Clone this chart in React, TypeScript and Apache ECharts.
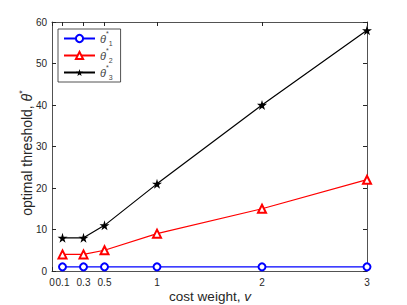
import React, { useEffect, useRef } from "react";
import * as echarts from "echarts";

const costWeights = [0.1, 0.3, 0.5, 1, 2, 3];
const theta1 = [1, 1, 1, 1, 1, 1];
const theta2 = [4, 4, 5, 9, 15, 22];
const theta3 = [8, 8, 11, 21, 40, 58];
const xTicks = [0, 0.1, 0.3, 0.5, 1, 2, 3];
const seriesNames = ["theta1", "theta2", "theta3"];

const STAR = "path://M50,0 L61,35 L98,35 L68,57 L79,91 L50,70 L21,91 L32,57 L2,35 L39,35 Z";
const AX = "#262626";
const FONT = "'Liberation Sans', Arial, sans-serif";

export default function App() {
  const ref = useRef<HTMLDivElement>(null);
  useEffect(() => {
    const chart = echarts.init(ref.current!, null, { renderer: "svg" });
    const pair = (vals: number[]) => costWeights.map((x, i) => [x, vals[i]]);
    const rich = {
      t: { fontSize: 11, fontStyle: "italic", color: "#444", fontFamily: FONT, lineHeight: 17 },
      s: { fontSize: 7, color: "#444", verticalAlign: "top", lineHeight: 17, fontFamily: FONT },
      b: { fontSize: 7, color: "#444", verticalAlign: "bottom", lineHeight: 17, fontFamily: FONT },
    };
    chart.setOption({
      animation: false,
      grid: { left: 52, right: 40, top: 22, bottom: 34, containLabel: false },
      legend: {
        left: 58,
        top: 29,
        orient: "vertical",
        backgroundColor: "#fff",
        borderColor: "#262626",
        borderWidth: 0.8,
        borderRadius: 0,
        padding: [1, 8, 1, 5],
        itemGap: 0,
        itemWidth: 31,
        itemHeight: 9,
        data: seriesNames,
        formatter: (n: string) => `{t|θ}{s|*}{b|${n.slice(-1)}}`,
        textStyle: { rich },
      },
      xAxis: [
        {
          type: "value",
          min: 0,
          max: 3,
          axisLine: { lineStyle: { color: AX, width: 0.8 } },
          splitLine: { show: false },
          axisTick: { inside: true, length: 4, customValues: xTicks, lineStyle: { color: AX } },
          axisLabel: { customValues: xTicks, color: AX, fontSize: 10, fontFamily: FONT, margin: 6, hideOverlap: false },
        },
        {
          type: "value",
          position: "top",
          min: 0,
          max: 3,
          axisLine: { onZero: false, lineStyle: { color: AX, width: 0.8 } },
          splitLine: { show: false },
          axisTick: { inside: true, length: 4, customValues: xTicks, lineStyle: { color: AX } },
          axisLabel: { show: false },
        },
      ],
      yAxis: [
        {
          type: "value",
          min: 0,
          max: 60,
          interval: 10,
          axisLine: { show: true, lineStyle: { color: AX, width: 0.8 } },
          splitLine: { show: false },
          axisTick: { show: true, inside: true, length: 4, lineStyle: { color: AX } },
          axisLabel: { color: AX, fontSize: 10, fontFamily: FONT, margin: 5 },
        },
        {
          type: "value",
          position: "right",
          min: 0,
          max: 60,
          interval: 10,
          axisLine: { show: true, onZero: false, lineStyle: { color: AX, width: 0.8 } },
          splitLine: { show: false },
          axisTick: { show: true, inside: true, length: 4, lineStyle: { color: AX } },
          axisLabel: { show: false },
        },
      ],
      series: [
        {
          name: seriesNames[0],
          type: "line",
          data: pair(theta1),
          color: "#0000ff",
          symbol: "emptyCircle",
          symbolSize: 7,
          lineStyle: { width: 1.2 },
          itemStyle: { borderWidth: 1.5 },
        },
        {
          name: seriesNames[1],
          type: "line",
          data: pair(theta2),
          color: "#ff0000",
          symbol: "emptyTriangle",
          symbolSize: 8,
          lineStyle: { width: 1.2 },
          itemStyle: { borderWidth: 1.3 },
        },
        {
          name: seriesNames[2],
          type: "line",
          data: pair(theta3),
          color: "#000000",
          symbol: STAR,
          symbolSize: 10,
          lineStyle: { width: 1.2 },
        },
      ],
      graphic: [
        {
          type: "text",
          x: 27,
          y: 153,
          rotation: Math.PI / 2,
          style: {
            text: "{n|optimal threshold, }{i|θ}{s|*}",
            align: "center",
            verticalAlign: "middle",
            rich: {
              n: { fontSize: 14, fontFamily: FONT, fill: "#262626", lineHeight: 20 },
              i: { fontSize: 14, fontFamily: FONT, fontStyle: "italic", fill: "#262626", lineHeight: 20 },
              s: { fontSize: 9, fontFamily: FONT, fill: "#262626", verticalAlign: "top", lineHeight: 20 },
            },
          },
        },
        {
          type: "text",
          x: 210,
          y: 296,
          style: {
            text: "{n|cost weight, }{i|v}",
            align: "center",
            verticalAlign: "middle",
            rich: {
              n: { fontSize: 13.5, fontFamily: FONT, fill: "#262626" },
              i: { fontSize: 13.5, fontFamily: FONT, fontStyle: "italic", fill: "#262626" },
            },
          },
        },
      ],
    });
    return () => chart.dispose();
  }, []);
  return <div ref={ref} style={{ width: 407, height: 305, position: "absolute", left: 0, top: 0 }} />;
}
